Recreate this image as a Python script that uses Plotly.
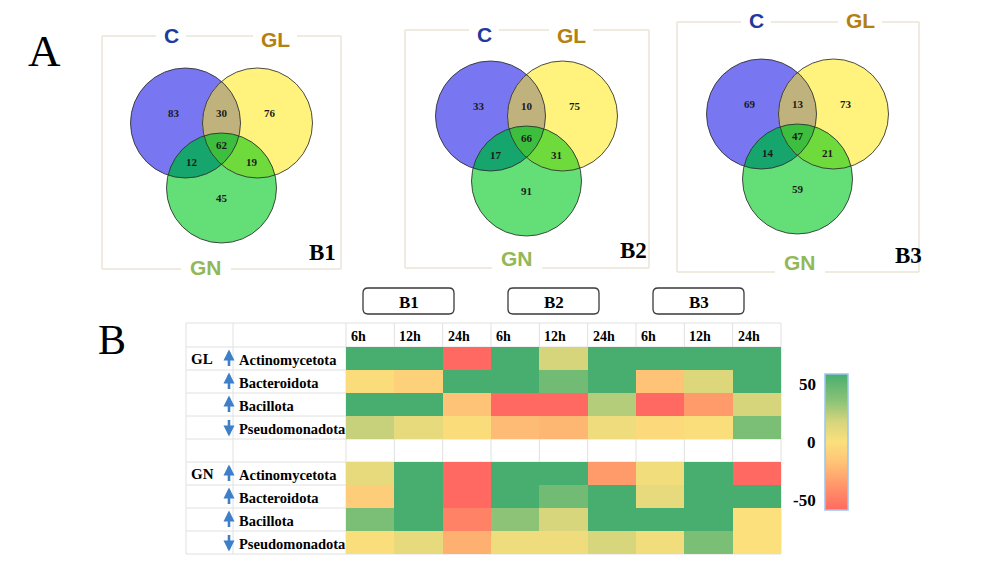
import numpy as np
import plotly.graph_objects as go

W, H = 991, 567

# ---------------- data ----------------
set_labels = ["C", "GL", "GN"]
venn_tags = ["B1", "B2", "B3"]
# region counts per Venn (B1, B2, B3)
c_only = [83, 33, 69]
gl_only = [76, 75, 73]
gn_only = [45, 91, 59]
c_gl = [30, 10, 13]
c_gn = [12, 17, 14]
gl_gn = [19, 31, 21]
c_gl_gn = [62, 66, 47]

groups = ["B1", "B2", "B3"]
times = ["6h", "12h", "24h"]
treatments = ["GL", "GN"]
phyla = ["Actinomycetota", "Bacteroidota", "Bacillota", "Pseudomonadota"]
directions = ["up", "up", "up", "down"]
# columns: B1 6h,12h,24h | B2 6h,12h,24h | B3 6h,12h,24h
gl_values = [
    [50, 50, -50, 50, 15, 50, 50, 50, 50],
    [-2, -8, 50, 50, 38, 50, -15, 12, 50],
    [50, 50, -15, -50, -50, 22, -50, -30, 15],
    [18, 8, -2, -18, -20, 5, -3, -1, 35],
]
gn_values = [
    [8, 50, -50, 50, 50, -30, 4, 50, -50],
    [-10, 50, -50, 50, 38, 50, 8, 50, 50],
    [35, 50, -40, 30, 14, 50, 50, 50, 0],
    [-1, 8, -22, 5, 5, 14, 4, 35, 0],
]
cbar_ticks = [50, 0, -50]

# ---------------- helpers ----------------
def px(x):
    return x / W

def py(y):
    return 1 - y / H

fig = go.Figure()
shapes = []
annos = []

def text(x, y, s, size, color="black", family="Liberation Serif", bold=True,
         xanchor="center", yanchor="middle"):
    annos.append(dict(x=px(x), y=py(y), xref="paper", yref="paper", text=(f"<b>{s}</b>" if bold else s),
                      showarrow=False, xanchor=xanchor, yanchor=yanchor,
                      font=dict(size=size, color=color, family=family)))

def line(x0, y0, x1, y1, color, width, layer="above"):
    shapes.append(dict(type="line", xref="paper", yref="paper", x0=px(x0), y0=py(y0),
                       x1=px(x1), y1=py(y1), line=dict(color=color, width=width), layer=layer))

def poly_path(pts):
    return "M " + " L ".join(f"{px(x):.5f},{py(y):.5f}" for x, y in pts) + " Z"

def circle_pts(c, r, n=720):
    t = np.linspace(0, 2 * np.pi, n, endpoint=False)
    return np.stack([c[0] + r * np.cos(t), c[1] + r * np.sin(t)], axis=1)

def inside(p, c, r):
    return (p[:, 0] - c[0]) ** 2 + (p[:, 1] - c[1]) ** 2 <= r * r + 1e-6

def intersection_poly(circles, r):
    pts = []
    for i, c in enumerate(circles):
        p = circle_pts(c, r)
        m = np.ones(len(p), bool)
        for j, c2 in enumerate(circles):
            if j != i:
                m &= inside(p, c2, r)
        pts.append(p[m])
    pts = np.concatenate(pts)
    ctr = pts.mean(axis=0)
    ang = np.arctan2(pts[:, 1] - ctr[1], pts[:, 0] - ctr[0])
    return pts[np.argsort(ang)]

# ---------------- Venn panels ----------------
set_colors = {"C": "#1f3a9e", "GL": "#b5800f", "GN": "#93b857"}
only_fill = {"C": "#7876f0", "GL": "#fff37d", "GN": "#64de76"}
pair_fill = {("C", "GL"): "#c0b27d", ("C", "GN"): "#16a56c", ("GL", "GN"): "#6eda3c"}
triple_fill = "#3ebe3e"
box_color = "#ebe4d6"

panels = [
    dict(cx=221.5, cy=123, box=(102, 36, 341, 269),
         lab={"C": (171, 35), "GL": (275, 39), "GN": (206, 267)}, tag=(322, 252)),
    dict(cx=526.5, cy=116, box=(405, 30, 649, 268),
         lab={"C": (484, 34), "GL": (571, 35), "GN": (517, 258)}, tag=(633, 250)),
    dict(cx=797.5, cy=114, box=(677, 22, 919, 272),
         lab={"C": (756, 21), "GL": (860, 21), "GN": (800, 262)}, tag=(908, 255)),
]
gap_half = {"C": 15, "GL": 22, "GN": 25}
R = 55
DX, DY = 36, 65

for k, pnl in enumerate(panels):
    cx, cy = pnl["cx"], pnl["cy"]
    cen = {"C": (cx - DX, cy), "GL": (cx + DX, cy), "GN": (cx, cy + DY)}
    bx0, by0, bx1, by1 = pnl["box"]
    line(bx0, by0, bx0, by1, box_color, 1.5)
    line(bx1, by0, bx1, by1, box_color, 1.5)
    top_gaps = sorted([(pnl["lab"][s][0] - gap_half[s], pnl["lab"][s][0] + gap_half[s]) for s in ["C", "GL"]])
    xs = bx0
    for g0, g1 in top_gaps:
        line(xs, by0, g0, by0, box_color, 1.5)
        xs = g1
    line(xs, by0, bx1, by0, box_color, 1.5)
    gx = pnl["lab"]["GN"][0]
    line(bx0, by1, gx - gap_half["GN"], by1, box_color, 1.5)
    line(gx + gap_half["GN"], by1, bx1, by1, box_color, 1.5)
    for s in set_labels:
        c = cen[s]
        shapes.append(dict(type="circle", xref="paper", yref="paper",
                           x0=px(c[0] - R), x1=px(c[0] + R), y0=py(c[1] - R), y1=py(c[1] + R),
                           fillcolor=only_fill[s], line=dict(width=0)))
    for (a, b), col in pair_fill.items():
        pts = intersection_poly([cen[a], cen[b]], R)
        shapes.append(dict(type="path", xref="paper", yref="paper", path=poly_path(pts),
                           fillcolor=col, line=dict(width=0)))
    pts = intersection_poly([cen["C"], cen["GL"], cen["GN"]], R)
    shapes.append(dict(type="path", xref="paper", yref="paper", path=poly_path(pts),
                       fillcolor=triple_fill, line=dict(width=0)))
    for s in set_labels:
        c = cen[s]
        shapes.append(dict(type="circle", xref="paper", yref="paper",
                           x0=px(c[0] - R), x1=px(c[0] + R), y0=py(c[1] - R), y1=py(c[1] + R),
                           line=dict(color="rgba(45,45,45,0.85)", width=1)))
    counts = [(c_only[k], -48, -10), (c_gl[k], 0, -10), (gl_only[k], 48, -10),
              (c_gl_gn[k], 0, 22), (c_gn[k], -30, 39), (gl_gn[k], 30, 39), (gn_only[k], 0, 75)]
    for v, ox, oy in counts:
        text(cx + ox, cy + oy, str(v), 11, color="#1a1a1a")
    for s in set_labels:
        lx, ly = pnl["lab"][s]
        text(lx, ly, s, 21, color=set_colors[s], family="Liberation Sans")
    text(pnl["tag"][0], pnl["tag"][1], venn_tags[k], 23)

# panel letters
text(44, 51, "A", 45, bold=False)
text(112, 340, "B", 42, bold=False)

# ---------------- heatmap table ----------------
HX0, HX1 = 346, 781
HY0, HY1 = 347, 554
TX0, TX1 = 186, 233
HEAD_Y0 = 323
ncol = len(groups) * len(times)
nrow = len(phyla) * 2 + 1
cw = (HX1 - HX0) / ncol
rh = (HY1 - HY0) / nrow

z = [row for row in gl_values] + [[None] * ncol] + [row for row in gn_values]

colorscale = [
    [0.0, "#ff6961"], [0.2, "#ff9b6b"], [0.35, "#fec377"], [0.5, "#fbe07c"],
    [0.65, "#d6d57c"], [0.8, "#8cc377"], [1.0, "#48ae70"],
]
fig.add_trace(go.Heatmap(
    z=z, x=list(range(ncol)), y=list(range(nrow)), zmin=-50, zmax=50,
    colorscale=colorscale, hoverongaps=False,
    colorbar=dict(x=px(825), xanchor="left", y=py(442), yanchor="middle",
                  len=136, lenmode="pixels", thickness=23, thicknessmode="pixels",
                  outlinewidth=1.5, outlinecolor="#9cc4ee", showticklabels=False,
                  ticks="", xpad=0, ypad=0),
))
fig.update_layout(
    xaxis=dict(domain=[px(HX0), px(HX1)], range=[-0.5, ncol - 0.5], visible=False, fixedrange=True),
    yaxis=dict(domain=[py(HY1), py(HY0)], range=[nrow - 0.5, -0.5], visible=False, fixedrange=True),
)

grid_c = "#e0e0e0"
ys = [HEAD_Y0] + [HY0 + i * rh for i in range(nrow + 1)]
for yv in ys:
    line(TX0, yv, HX1, yv, grid_c, 1, layer="below")
xs_lines = [TX0, TX1] + [HX0 + i * cw for i in range(ncol + 1)]
for xv in xs_lines:
    line(xv, HEAD_Y0, xv, HY1, grid_c, 1, layer="below")

for gi, g in enumerate(groups):
    for ti, t in enumerate(times):
        ci = gi * len(times) + ti
        text(HX0 + ci * cw + 3, (HEAD_Y0 + HY0) / 2 + 1, t, 14, xanchor="left")
    gc = HX0 + (gi * 3 + 1.5) * cw - 10
    bx0, bx1, by0, by1, rr = gc - 45.5, gc + 45.5, 288, 314, 5
    path = (f"M {px(bx0+rr)},{py(by0)} L {px(bx1-rr)},{py(by0)} Q {px(bx1)},{py(by0)} {px(bx1)},{py(by0+rr)} "
            f"L {px(bx1)},{py(by1-rr)} Q {px(bx1)},{py(by1)} {px(bx1-rr)},{py(by1)} "
            f"L {px(bx0+rr)},{py(by1)} Q {px(bx0)},{py(by1)} {px(bx0)},{py(by1-rr)} "
            f"L {px(bx0)},{py(by0+rr)} Q {px(bx0)},{py(by0)} {px(bx0+rr)},{py(by0)} Z")
    shapes.append(dict(type="path", xref="paper", yref="paper", path=path,
                       line=dict(color="#3a3a3a", width=1.3), fillcolor="white"))
    text(gc, (by0 + by1) / 2 + 1, g, 17)

for ti, tr in enumerate(treatments):
    for pi, ph in enumerate(phyla):
        r = ti * (len(phyla) + 1) + pi
        yc = HY0 + (r + 0.5) * rh
        if pi == 0:
            text(189, yc, tr, 15, xanchor="left")
        text(237, yc + 1, ph, 14.5, xanchor="left")
        if directions[pi] == "up":
            tip, tail = yc - 9, yc + 9
        else:
            tip, tail = yc + 9, yc - 9
        annos.append(dict(x=px(229), y=py(tip), xref="paper", yref="paper", text="",
                          showarrow=True, ax=0, ay=(tail - tip), arrowhead=2, arrowsize=0.85,
                          arrowwidth=2.6, arrowcolor="#3d7fc8"))

for v in cbar_ticks:
    text(818, 442 - v * 1.16, str(v), 17, xanchor="right")

fig.update_layout(
    width=W, height=H, margin=dict(l=0, r=0, t=0, b=0),
    paper_bgcolor="white", plot_bgcolor="rgba(0,0,0,0)",
    shapes=shapes, annotations=annos, showlegend=False,
)
fig.write_html("out.html", config={"displayModeBar": False},
               post_script="document.body.style.margin='0';document.body.style.overflow='hidden';")
